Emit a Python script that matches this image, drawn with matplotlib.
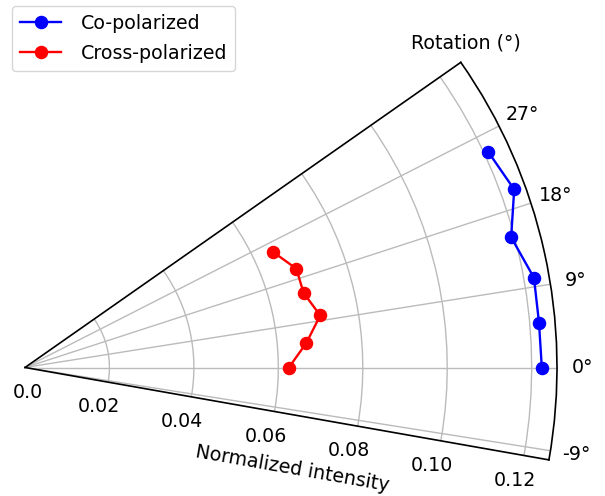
import numpy as np
from matplotlib import pyplot as plt

# rotation angle (deg) and normalized intensity
angles = [0, 5, 10, 15, 20, 25]
co_pol = [0.1224, 0.1222, 0.1224, 0.1192, 0.1233, 0.1210]
cross_pol = [0.0625, 0.0669, 0.0710, 0.0683, 0.0684, 0.0648]

theta_ticks = [-9, 0, 9, 18, 27]
r_ticks = [0.0, 0.02, 0.04, 0.06, 0.08, 0.10, 0.12]
r_labels = ['0.0', '0.02', '0.04', '0.06', '0.08', '0.10', '0.12']
rmax = 0.126

plt.rcParams['font.size'] = 13.7

W, H = 605, 496
fig = plt.figure(figsize=(W/100, H/100), dpi=100)
# polar wedge bbox is padded to a square, so the axes box is R x R
ax = fig.add_axes([25/W, -30/H, 532/W, 532/H], projection='polar')

th = np.deg2rad(angles)
ax.plot(th, co_pol, 'o-', color='blue', lw=1.7, ms=8.7, label='Co-polarized')
ax.plot(th, cross_pol, 'o-', color='red', lw=1.7, ms=8.7, label='Cross-polarized')

ax.set_thetamin(-10)
ax.set_thetamax(35)
ax.set_rlim(0, rmax)
ax.set_thetagrids(theta_ticks, [f'{t}°' for t in theta_ticks])
ax.set_rgrids(r_ticks, [''] * len(r_ticks))
ax.tick_params(axis='x', pad=8)
ax.grid(True, color='#bbbbbb', lw=1)
for sp in ax.spines.values():
    sp.set_linewidth(1.2)

# radial labels under the lower edge, nudged left like the original
edge = np.deg2rad(-10)
for r, lbl in zip(r_ticks, r_labels):
    dx = 1.8 if r == 0 else -6.5
    ax.annotate(lbl, xy=(edge, r), xytext=(dx, -21.8), textcoords='offset points',
                ha='center', va='baseline', annotation_clip=False)

# fit wedge so origin sits at (25, 367.5) px and radius is 532 px
fig.canvas.draw()
pos = ax.get_position()
o = ax.transData.transform((0, 0))
e = ax.transData.transform((0, rmax))
s = 532 / (e[0] - o[0])
fx = (o[0] - pos.x0*W) / (pos.width*W)
fy = (o[1] - pos.y0*H) / (pos.height*H)
nw, nh = pos.width*W*s, pos.height*H*s
ax.set_position([(25 - fx*nw)/W, ((H - 367.5) - fy*nh)/H, nw/W, nh/H])

fig.text(466/W, 1 - 43/H, 'Rotation (°)', ha='center', va='center')
ax.text(np.deg2rad(-20.8), 0.0677, 'Normalized intensity', rotation=-10,
        ha='center', va='center', rotation_mode='anchor')

fig.legend(loc='upper left', bbox_to_anchor=(12/W, 490/H), borderaxespad=0,
           handlelength=2.2, labelspacing=0.6, handletextpad=1.0)

fig.savefig('out.png', dpi=100)
